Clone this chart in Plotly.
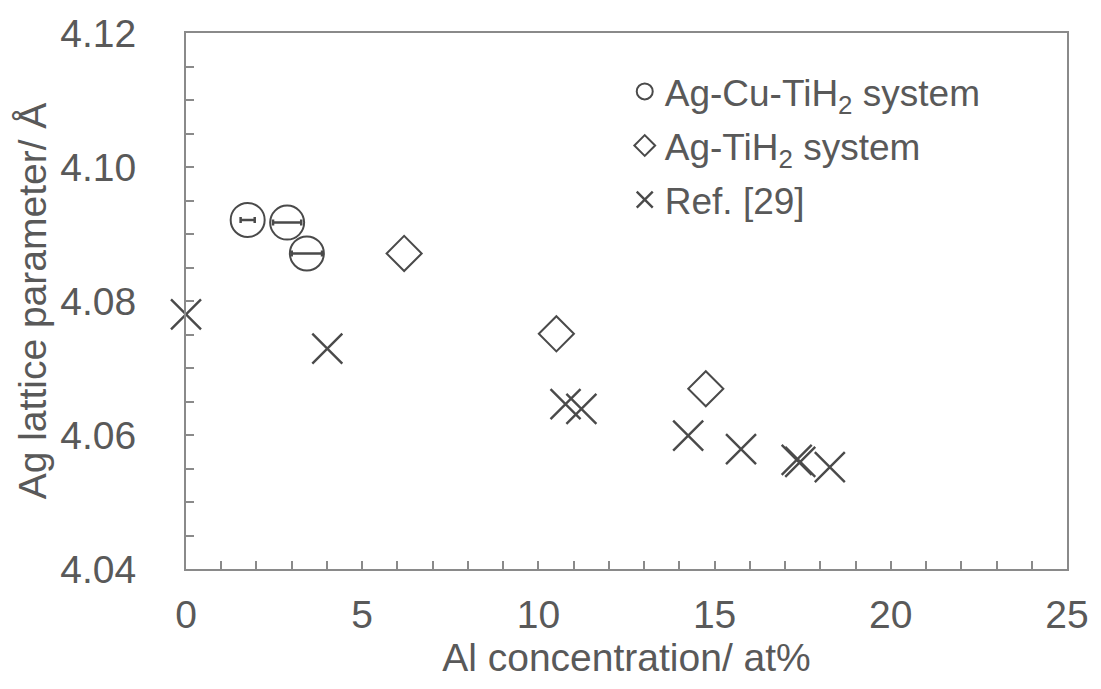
import plotly.graph_objects as go

# Ag-Cu-TiH2 system
cu_x = [1.75, 2.87, 3.43]
cu_y = [4.0921, 4.0917, 4.0871]
cu_xerr = [0.2, 0.4, 0.43]

# Ag-TiH2 system
ti_x = [6.19, 10.51, 14.75]
ti_y = [4.0871, 4.0751, 4.0669]

# Ref. [29]
ref_x = [0.0, 4.01, 10.77, 11.22, 14.25, 15.75, 17.33, 17.43, 18.27]
ref_y = [4.0780, 4.0729, 4.0646, 4.0639, 4.0599, 4.0579, 4.0563, 4.0560, 4.0552]

mk_color = "#4a4a4a"
txt_color = "#595959"
axis_color = "#8a8a8a"
font_family = "Liberation Sans, Arial, sans-serif"
fs = 39

fig = go.Figure()
fig.add_trace(go.Scatter(
    x=cu_x, y=cu_y, mode="markers", name="Ag-Cu-TiH<sub>2</sub> system",
    legendgroup="a", cliponaxis=False,
    marker=dict(symbol="circle-open", size=34, color=mk_color, line=dict(width=2, color=mk_color)),
    error_x=dict(type="data", array=cu_xerr, visible=True, color=mk_color, thickness=2.5, width=3),
))
fig.add_trace(go.Scatter(
    x=ti_x, y=ti_y, mode="markers", name="Ag-TiH<sub>2</sub> system",
    legendgroup="b", cliponaxis=False,
    marker=dict(symbol="diamond-open", size=27, color=mk_color, line=dict(width=2, color=mk_color)),
))
fig.add_trace(go.Scatter(
    x=ref_x, y=ref_y, mode="markers", name="Ref. [29]",
    legendgroup="c", cliponaxis=False,
    marker=dict(symbol="x-thin-open", size=30, color=mk_color, line=dict(width=2.4, color=mk_color)),
))

fig.update_layout(
    width=1101, height=689,
    margin=dict(l=186, r=24, t=31, b=120),
    paper_bgcolor="white", plot_bgcolor="white",
    font=dict(family=font_family, size=fs, color=txt_color),
    showlegend=True,
    legend=dict(x=0.498, y=0.948, xanchor="left", yanchor="top",
                font=dict(size=37, color=txt_color), bgcolor="rgba(0,0,0,0)",
                tracegroupgap=3, itemwidth=30),
)
fig.update_xaxes(
    range=[0, 25], dtick=5, tick0=0, showgrid=False, zeroline=False,
    showline=True, mirror=True, linecolor=axis_color, linewidth=2,
    ticks="inside", ticklen=8, tickwidth=1.5, tickcolor=axis_color,
    minor=dict(dtick=1, ticks="inside", ticklen=8, tickwidth=1.5, tickcolor=axis_color, showgrid=False),
    ticklabelstandoff=10,
    tickfont=dict(size=fs, color=txt_color),
    title=dict(text="Al concentration/ at%", font=dict(size=fs, color=txt_color), standoff=6),
)
fig.update_yaxes(
    range=[4.04, 4.12], dtick=0.02, tick0=4.04, tickformat=".2f", showgrid=False, zeroline=False,
    showline=True, mirror=True, linecolor=axis_color, linewidth=2,
    ticks="inside", ticklen=8, tickwidth=1.5, tickcolor=axis_color,
    minor=dict(dtick=0.005, ticks="inside", ticklen=8, tickwidth=1.5, tickcolor=axis_color, showgrid=False),
    ticklabelstandoff=40,
    tickfont=dict(size=fs, color=txt_color),
    title=dict(text="Ag lattice parameter/ Å", font=dict(size=fs, color=txt_color), standoff=2),
)

fig.write_html("out.html")
